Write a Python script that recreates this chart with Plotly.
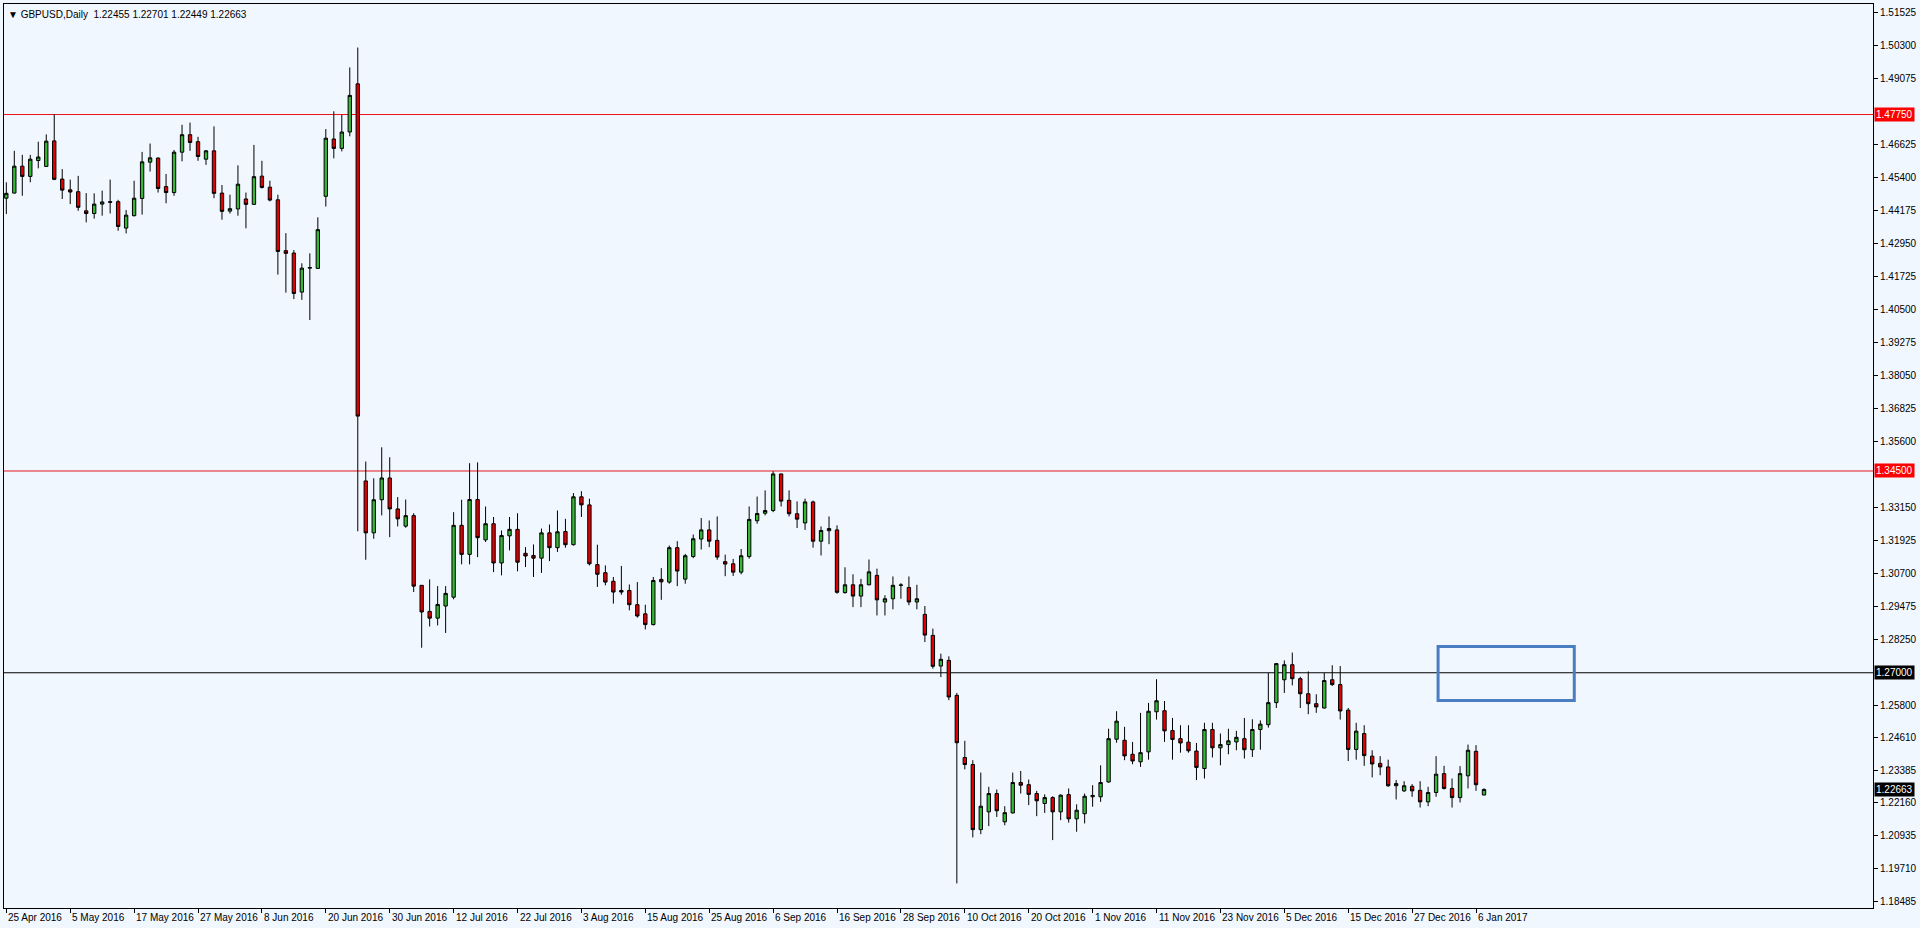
import pandas as pd
import plotly.graph_objects as go

# ---------------- data ----------------
dates = [d.strftime("%Y-%m-%d") for d in pd.bdate_range("2016-04-25", "2017-01-09")]

opens = [
    1.4464, 1.4483, 1.4583, 1.4545, 1.4604, 1.4582, 1.4677, 1.4535, 1.4495, 1.4488,
    1.4417, 1.4407, 1.4442, 1.4451, 1.4451, 1.4353, 1.4399, 1.4463, 1.4598, 1.4613,
    1.4507, 1.4485, 1.4635, 1.4700, 1.4674, 1.4609, 1.4640, 1.4483, 1.4416, 1.4424,
    1.4461, 1.4441, 1.4546, 1.4505, 1.4458, 1.4269, 1.4260, 1.4115, 1.4204, 1.4203,
    1.4471, 1.4684, 1.4649, 1.4710, 1.4889, 1.3413, 1.3220, 1.3343, 1.3424, 1.3309,
    1.3245, 1.3284, 1.3025, 1.2928, 1.2903, 1.2948, 1.2981, 1.3248, 1.3140, 1.3344,
    1.3194, 1.3254, 1.3108, 1.3209, 1.3233, 1.3144, 1.3136, 1.3126, 1.3220, 1.3165,
    1.3225, 1.3176, 1.3354, 1.3324, 1.3102, 1.3072, 1.3040, 1.3006, 1.3006, 1.2953,
    1.2919, 1.2879, 1.3047, 1.3037, 1.3165, 1.3048, 1.3132, 1.3197, 1.3231, 1.3192,
    1.3113, 1.3105, 1.3074, 1.3132, 1.3265, 1.3293, 1.3303, 1.3439, 1.3341, 1.3291,
    1.3257, 1.3335, 1.3189, 1.3228, 1.3231, 1.2998, 1.3027, 1.2985, 1.3027, 1.3062,
    1.2963, 1.2975, 1.3025, 1.3017, 1.2963, 1.2917, 1.2839, 1.2725, 1.2746, 1.2616,
    1.2385, 1.2359, 1.2117, 1.2183, 1.2251, 1.2146, 1.2179, 1.2292, 1.2284, 1.2251,
    1.2214, 1.2236, 1.2183, 1.2247, 1.2157, 1.2176, 1.2239, 1.2239, 1.2294, 1.2453,
    1.2449, 1.2397, 1.2369, 1.2406, 1.2555, 1.2559, 1.2485, 1.2455, 1.2442, 1.2409,
    1.2344, 1.2489, 1.2421, 1.2433, 1.2443, 1.2455, 1.2414, 1.2489, 1.2507, 1.2589,
    1.2674, 1.2730, 1.2678, 1.2622, 1.2585, 1.2569, 1.2674, 1.2656, 1.2561, 1.2415,
    1.2474, 1.2390, 1.2363, 1.2350, 1.2280, 1.2261, 1.2278, 1.2263, 1.2220, 1.2255,
    1.2325, 1.2270, 1.2236, 1.2317, 1.2408, 1.22455,
]
highs = [
    1.4523, 1.4640, 1.4625, 1.4625, 1.4674, 1.4701, 1.4776, 1.4572, 1.4533, 1.4547,
    1.4483, 1.4482, 1.4492, 1.4533, 1.4458, 1.4420, 1.4529, 1.4636, 1.4667, 1.4616,
    1.4554, 1.4643, 1.4737, 1.4745, 1.4692, 1.4643, 1.4731, 1.4513, 1.4477, 1.4586,
    1.4485, 1.4662, 1.4603, 1.4529, 1.4477, 1.4334, 1.4271, 1.4222, 1.4259, 1.4393,
    1.4721, 1.4787, 1.4775, 1.4950, 1.5024, 1.3485, 1.3423, 1.3538, 1.3501, 1.3353,
    1.3344, 1.3293, 1.3025, 1.3047, 1.3022, 1.3022, 1.3297, 1.3343, 1.3479, 1.3482,
    1.3318, 1.3279, 1.3229, 1.3279, 1.3293, 1.3167, 1.3177, 1.3236, 1.3251, 1.3303,
    1.3272, 1.3368, 1.3375, 1.3347, 1.3176, 1.3099, 1.3056, 1.3097, 1.3028, 1.3037,
    1.2953, 1.3056, 1.3089, 1.3173, 1.3189, 1.3142, 1.3214, 1.3275, 1.3266, 1.3281,
    1.3139, 1.3123, 1.3160, 1.3318, 1.3355, 1.3378, 1.3449, 1.3440, 1.3378, 1.3337,
    1.3347, 1.3340, 1.3244, 1.3281, 1.3248, 1.3092, 1.3066, 1.3049, 1.3121, 1.3087,
    1.2988, 1.3058, 1.3033, 1.3058, 1.3027, 1.2948, 1.2864, 1.2771, 1.2761, 1.2625,
    1.2447, 1.2375, 1.2329, 1.2276, 1.2266, 1.2204, 1.2329, 1.2335, 1.2303, 1.2261,
    1.2248, 1.2241, 1.2248, 1.2270, 1.2211, 1.2251, 1.2282, 1.2356, 1.2492, 1.2557,
    1.2499, 1.2443, 1.2551, 1.2588, 1.2676, 1.2595, 1.2532, 1.2505, 1.2505, 1.2439,
    1.2514, 1.2514, 1.2474, 1.2492, 1.2484, 1.2532, 1.2527, 1.2523, 1.2699, 1.2736,
    1.2746, 1.2775, 1.2685, 1.2705, 1.2620, 1.2699, 1.2728, 1.2725, 1.2569, 1.2514,
    1.2505, 1.2412, 1.2390, 1.2377, 1.2301, 1.2297, 1.2286, 1.2297, 1.2276, 1.2390,
    1.2354, 1.2307, 1.2353, 1.2433, 1.2431, 1.22701,
]
lows = [
    1.4405, 1.4482, 1.4473, 1.4523, 1.4575, 1.4582, 1.4531, 1.4461, 1.4442, 1.4417,
    1.4374, 1.4388, 1.4399, 1.4407, 1.4343, 1.4333, 1.4396, 1.4403, 1.4563, 1.4485,
    1.4445, 1.4473, 1.4601, 1.4640, 1.4603, 1.4588, 1.4464, 1.4384, 1.4407, 1.4399,
    1.4352, 1.4440, 1.4500, 1.4452, 1.4180, 1.4113, 1.4089, 1.4086, 1.4011, 1.4201,
    1.4433, 1.4612, 1.4638, 1.4694, 1.3226, 1.3120, 1.3198, 1.3285, 1.3204, 1.3244,
    1.3239, 1.3000, 1.2793, 1.2872, 1.2876, 1.2848, 1.2973, 1.3103, 1.3103, 1.3130,
    1.3186, 1.3074, 1.3062, 1.3155, 1.3077, 1.3093, 1.3056, 1.3071, 1.3115, 1.3149,
    1.3165, 1.3173, 1.3279, 1.3099, 1.3019, 1.3025, 1.2957, 1.2990, 1.2932, 1.2905,
    1.2861, 1.2876, 1.2971, 1.3031, 1.3022, 1.3031, 1.3126, 1.3158, 1.3167, 1.3120,
    1.3059, 1.3060, 1.3066, 1.3124, 1.3254, 1.3285, 1.3297, 1.3318, 1.3281, 1.3238,
    1.3231, 1.3165, 1.3136, 1.3178, 1.2994, 1.2994, 1.2944, 1.2944, 1.3025, 1.2913,
    1.2913, 1.2936, 1.2975, 1.2951, 1.2936, 1.2814, 1.2715, 1.2684, 1.2598, 1.1917,
    1.2341, 1.2088, 1.2100, 1.2130, 1.2164, 1.2133, 1.2177, 1.2251, 1.2208, 1.2167,
    1.2179, 1.2078, 1.2152, 1.2143, 1.2109, 1.2140, 1.2202, 1.2220, 1.2292, 1.2440,
    1.2375, 1.2360, 1.2350, 1.2377, 1.2526, 1.2443, 1.2377, 1.2403, 1.2403, 1.2301,
    1.2307, 1.2385, 1.2356, 1.2397, 1.2412, 1.2381, 1.2387, 1.2414, 1.2496, 1.2569,
    1.2625, 1.2653, 1.2569, 1.2546, 1.2551, 1.2567, 1.2651, 1.2526, 1.2372, 1.2377,
    1.2354, 1.2311, 1.2319, 1.2276, 1.2229, 1.2257, 1.2239, 1.2199, 1.2204, 1.2239,
    1.2266, 1.2199, 1.2218, 1.2270, 1.2261, 1.22449,
]
closes = [
    1.4482, 1.4583, 1.4545, 1.4609, 1.4617, 1.4676, 1.4534, 1.4494, 1.4487, 1.4430,
    1.4407, 1.4442, 1.4450, 1.4449, 1.4359, 1.4401, 1.4464, 1.4599, 1.4614, 1.4500,
    1.4485, 1.4635, 1.4700, 1.4671, 1.4619, 1.4640, 1.4482, 1.4415, 1.4425, 1.4516,
    1.4441, 1.4544, 1.4504, 1.4457, 1.4266, 1.4259, 1.4110, 1.4204, 1.4206, 1.4347,
    1.4687, 1.4649, 1.4710, 1.4846, 1.3654, 1.3220, 1.3343, 1.3424, 1.3309, 1.3272,
    1.3284, 1.3022, 1.2926, 1.2903, 1.2954, 1.2995, 1.3248, 1.3140, 1.3344, 1.3202,
    1.3254, 1.3108, 1.3210, 1.3233, 1.3111, 1.3134, 1.3126, 1.3220, 1.3165, 1.3224,
    1.3176, 1.3354, 1.3324, 1.3105, 1.3066, 1.3037, 1.3000, 1.3000, 1.2953, 1.2911,
    1.2879, 1.3043, 1.3038, 1.3165, 1.3078, 1.3135, 1.3198, 1.3231, 1.3189, 1.3130,
    1.3104, 1.3074, 1.3135, 1.3270, 1.3292, 1.3303, 1.3439, 1.3338, 1.3291, 1.3271,
    1.3335, 1.3189, 1.3229, 1.3236, 1.2999, 1.3027, 1.2985, 1.3027, 1.3075, 1.2971,
    1.2975, 1.3025, 1.3026, 1.2963, 1.2975, 1.2840, 1.2724, 1.2750, 1.2610, 1.2440,
    1.2359, 1.2117, 1.2204, 1.2251, 1.2187, 1.2180, 1.2292, 1.2282, 1.2248, 1.2224,
    1.2236, 1.2183, 1.2245, 1.2157, 1.2189, 1.2241, 1.2244, 1.2292, 1.2455, 1.2520,
    1.2391, 1.2372, 1.2403, 1.2557, 1.2596, 1.2484, 1.2452, 1.2439, 1.2410, 1.2348,
    1.2489, 1.2421, 1.2433, 1.2447, 1.2460, 1.2414, 1.2489, 1.2509, 1.2589, 1.2734,
    1.2730, 1.2678, 1.2622, 1.2585, 1.2573, 1.2671, 1.2656, 1.2558, 1.2415, 1.2483,
    1.2392, 1.2361, 1.2350, 1.2280, 1.2288, 1.2280, 1.2261, 1.2220, 1.2255, 1.2323,
    1.2270, 1.2236, 1.2325, 1.2412, 1.2284, 1.22663,
]

tick_dates = [
    "2016-04-25", "2016-05-05", "2016-05-17", "2016-05-27", "2016-06-08", "2016-06-20",
    "2016-06-30", "2016-07-12", "2016-07-22", "2016-08-03", "2016-08-15", "2016-08-25",
    "2016-09-06", "2016-09-16", "2016-09-28", "2016-10-10", "2016-10-20", "2016-11-01",
    "2016-11-11", "2016-11-23", "2016-12-05", "2016-12-15", "2016-12-27", "2017-01-06",
]
price_ticks = [
    1.51525, 1.50300, 1.49075, 1.46625, 1.45400, 1.44175, 1.42950, 1.41725, 1.40500,
    1.39275, 1.38050, 1.36825, 1.35600, 1.33150, 1.31925, 1.30700, 1.29475, 1.28250,
    1.25800, 1.24610, 1.23385, 1.22160, 1.20935, 1.19710, 1.18485,
]
red_levels = [1.47750, 1.34500]
black_levels = [1.27000]
zone_prices = [1.2597, 1.2798]
zone_bars = [179.25, 196.3]
header = "▼ GBPUSD,Daily  1.22455 1.22701 1.22449 1.22663"

# ---------------- figure ----------------
FONT = "Liberation Sans, Arial, sans-serif"
BG = "#F0F7FF"
x_idx = list(range(len(dates)))

fig = go.Figure()
fig.add_trace(go.Candlestick(
    x=x_idx, open=opens, high=highs, low=lows, close=closes,
    increasing=dict(line=dict(color="#000000", width=1), fillcolor="#36B836"),
    decreasing=dict(line=dict(color="#000000", width=1), fillcolor="#E00000"),
    whiskerwidth=0, showlegend=False, hoverinfo="skip",
))

shapes = []
for lv in red_levels:
    shapes.append(dict(type="line", xref="paper", x0=0, x1=1, yref="y", y0=lv, y1=lv,
                       line=dict(color="#E8141B", width=1), layer="below"))
for lv in black_levels:
    shapes.append(dict(type="line", xref="paper", x0=0, x1=1, yref="y", y0=lv, y1=lv,
                       line=dict(color="#000000", width=1), layer="below"))
shapes.append(dict(type="rect", xref="x", yref="y", x0=zone_bars[0], x1=zone_bars[1],
                   y0=zone_prices[0], y1=zone_prices[1],
                   line=dict(color="#4A7DC2", width=3), fillcolor="rgba(0,0,0,0)"))

annotations = []
annotations.append(dict(text=header, xref="paper", yref="paper", x=0, y=1,
                        xanchor="left", yanchor="top", xshift=2, yshift=-3,
                        showarrow=False, font=dict(family=FONT, size=10, color="#000000")))
tick_pos = [dates.index(d) for d in tick_dates]
for d, p in zip(tick_dates, tick_pos):
    ts = pd.Timestamp(d)
    lab = f"{ts.day} {ts.strftime('%b %Y')}"
    annotations.append(dict(text=lab, xref="x", yref="paper", x=p, y=0,
                            xanchor="left", yanchor="top", xshift=0, yshift=-2,
                            showarrow=False, font=dict(family=FONT, size=10, color="#000000")))
for lv in red_levels:
    annotations.append(dict(text=f"{lv:.5f}", xref="paper", yref="y", x=1, y=lv,
                            xanchor="left", yanchor="middle", xshift=1, showarrow=False,
                            bgcolor="#FF0000", borderpad=1,
                            font=dict(family=FONT, size=10, color="#FFFFFF")))
for lv in black_levels + [closes[-1]]:
    annotations.append(dict(text=f"{lv:.5f}", xref="paper", yref="y", x=1, y=lv,
                            xanchor="left", yanchor="middle", xshift=1, showarrow=False,
                            bgcolor="#000000", borderpad=1,
                            font=dict(family=FONT, size=10, color="#FFFFFF")))

fig.update_layout(
    width=1920, height=928,
    margin=dict(l=3, r=45, t=3, b=20),
    paper_bgcolor=BG, plot_bgcolor=BG,
    shapes=shapes, annotations=annotations,
    boxgap=0.4,
    xaxis=dict(range=[-0.29, 233.7], showgrid=False, zeroline=False,
               showline=True, mirror=True, linecolor="#000000", linewidth=1,
               ticks="outside", ticklen=4, tickcolor="#000000", tickwidth=1,
               tickvals=tick_pos, showticklabels=False,
               rangeslider=dict(visible=False), fixedrange=True),
    yaxis=dict(range=[1.18256, 1.51858], side="right", showgrid=False, zeroline=False,
               showline=True, mirror=True, linecolor="#000000", linewidth=1,
               ticks="outside", ticklen=4, tickcolor="#000000", tickwidth=1,
               tickvals=price_ticks, ticktext=[f"{v:.5f}" for v in price_ticks],
               tickfont=dict(family=FONT, size=10, color="#000000"), fixedrange=True),
)

fig.write_html("out.html", config={"displayModeBar": False},
               post_script="document.body.style.margin='0';")
